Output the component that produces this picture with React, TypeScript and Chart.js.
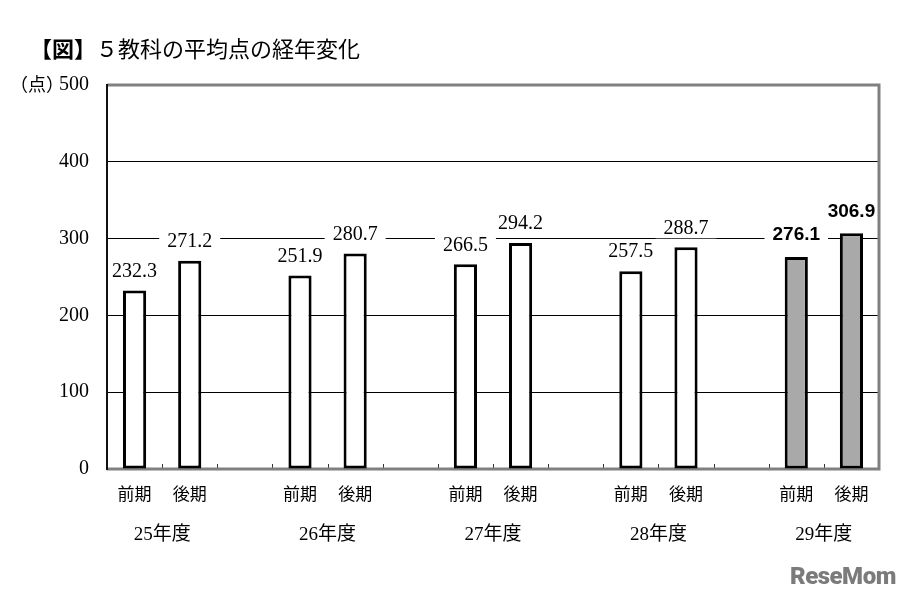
import React, { useEffect, useRef } from 'react';
import { Chart, registerables } from 'chart.js';

Chart.register(...registerables);

const years = ['25年度', '26年度', '27年度', '28年度', '29年度'];
const terms = ['前期', '後期'];
const firstTerm = [232.3, 251.9, 266.5, 257.5, 276.1];
const secondTerm = [271.2, 280.7, 294.2, 288.7, 306.9];
const yMin = 0;
const yMax = 500;
const yStep = 100;
const highlightYear = 4;

const SERIF = "'Liberation Serif', 'Noto Sans CJK JP', serif";

const labels: string[] = [];
const values: (number | null)[] = [];
const yearOf: number[] = [];
years.forEach((_, i) => {
  labels.push(terms[0], terms[1]);
  values.push(firstTerm[i], secondTerm[i]);
  yearOf.push(i, i);
  if (i < years.length - 1) {
    labels.push('');
    values.push(null);
    yearOf.push(-1);
  }
});

const frameAndExtras = {
  id: 'frameAndExtras',
  beforeDatasetsDraw(chart: any) {
    const { ctx, chartArea } = chart;
    const { left, right, top, bottom } = chartArea;
    const x = chart.scales.x;
    ctx.save();
    ctx.strokeStyle = '#333';
    ctx.lineWidth = 1;
    for (let i = 1; i < labels.length; i++) {
      const px = Math.round((x.getPixelForValue(i - 1) + x.getPixelForValue(i)) / 2) + 0.5;
      ctx.beginPath();
      ctx.moveTo(px, bottom);
      ctx.lineTo(px, bottom - 5);
      ctx.stroke();
    }
    ctx.strokeStyle = '#808080';
    ctx.lineWidth = 3;
    ctx.beginPath();
    ctx.moveTo(left, top);
    ctx.lineTo(right, top);
    ctx.lineTo(right, bottom);
    ctx.lineTo(left, bottom);
    ctx.stroke();
    ctx.strokeStyle = '#111';
    ctx.lineWidth = 2;
    ctx.beginPath();
    ctx.moveTo(left, top - 1);
    ctx.lineTo(left, bottom + 1);
    ctx.stroke();
    ctx.restore();
  },
  afterDatasetsDraw(chart: any) {
    const { ctx, chartArea } = chart;
    const meta = chart.getDatasetMeta(0);
    const xs = chart.scales.x;
    ctx.save();
    meta.data.forEach((el: any, i: number) => {
      const v = values[i];
      if (v == null) return;
      const hl = yearOf[i] === highlightYear;
      const text = v.toFixed(1);
      ctx.font = hl ? "bold 19px 'Liberation Sans', Arial, sans-serif" : `20px ${SERIF}`;
      const w = ctx.measureText(text).width;
      const cy = el.y - (hl ? 22 : 19);
      const x0 = Math.max(el.x - w / 2 - 8, chartArea.left + 2);
      const x1 = Math.min(el.x + w / 2 + 8, chartArea.right - 2);
      ctx.fillStyle = '#fff';
      ctx.fillRect(x0, cy - 10, x1 - x0, 20);
      ctx.fillStyle = '#000';
      ctx.textAlign = 'center';
      ctx.textBaseline = 'middle';
      ctx.fillText(text, el.x, cy);
    });
    ctx.font = `19px ${SERIF}`;
    ctx.fillStyle = '#000';
    ctx.textAlign = 'center';
    ctx.textBaseline = 'middle';
    years.forEach((yl, yi) => {
      const idx = yearOf.indexOf(yi);
      const cx = (xs.getPixelForValue(idx) + xs.getPixelForValue(idx + 1)) / 2;
      ctx.fillText(yl, cx, 535);
    });
    ctx.font = `18px ${SERIF}`;
    ctx.textAlign = 'left';
    ctx.fillText('（点）', 10, chart.scales.y.getPixelForValue(yMax) + 1);
    ctx.restore();
  },
};

export default function App() {
  const ref = useRef<HTMLCanvasElement | null>(null);
  useEffect(() => {
    if (!ref.current) return;
    const chart = new Chart(ref.current, {
      type: 'bar',
      data: {
        labels,
        datasets: [
          {
            data: values,
            backgroundColor: yearOf.map((y) => (y === highlightYear ? '#a9a9a9' : '#ffffff')),
            borderColor: '#000',
            borderWidth: 3,
            borderSkipped: false,
            barPercentage: 0.42,
            categoryPercentage: 1,
          },
        ],
      },
      options: {
        responsive: false,
        animation: false,
        layout: { padding: { top: 85, right: 21, left: 0, bottom: 0 } },
        plugins: { legend: { display: false }, tooltip: { enabled: false }, title: { display: false } },
        scales: {
          x: {
            grid: { display: false },
            border: { display: false },
            ticks: {
              autoSkip: false,
              maxRotation: 0,
              color: '#000',
              padding: 8,
              font: { family: SERIF, size: 17 },
            },
            afterFit: (s: any) => {
              s.height = 131;
            },
          },
          y: {
            min: yMin,
            max: yMax,
            ticks: {
              stepSize: yStep,
              color: '#000',
              padding: 18,
              font: { family: SERIF, size: 20 },
            },
            grid: {
              drawTicks: false,
              color: (c: any) => (c.tick && (c.tick.value === yMin || c.tick.value === yMax) ? 'rgba(0,0,0,0)' : '#000'),
              lineWidth: 1,
            },
            border: { display: false },
            afterFit: (s: any) => {
              s.width = 107;
            },
          },
        },
      },
      plugins: [frameAndExtras],
    } as any);
    return () => chart.destroy();
  }, []);

  return (
    <div style={{ position: 'absolute', left: 0, top: 0, width: 900, height: 600, background: '#fff' }}>
      <canvas ref={ref} width={900} height={600} style={{ display: 'block' }} />
      <div
        style={{
          position: 'absolute',
          left: 30,
          top: 33,
          fontFamily: "'Noto Sans CJK JP', sans-serif",
          fontSize: 22,
          lineHeight: '28px',
          color: '#000',
          whiteSpace: 'nowrap',
        }}
      >
        <span style={{ fontWeight: 'bold' }}>【図】</span>５教科の平均点の経年変化
      </div>
      <div
        style={{
          position: 'absolute',
          left: 790,
          top: 562,
          fontFamily: "Roboto, 'Liberation Sans', sans-serif",
          fontWeight: 900,
          fontSize: 24,
          color: '#7b7b7b',
          letterSpacing: '-0.5px',
        }}
      >
        ReseMom
      </div>
    </div>
  );
}
